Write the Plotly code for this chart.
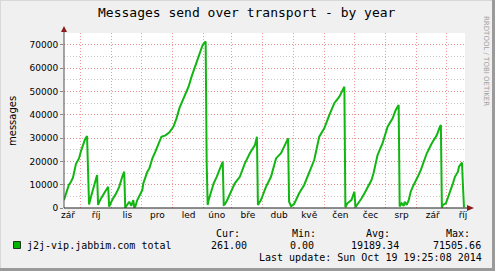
import plotly.graph_objects as go

# ---------------- data ----------------
dates = [
    "2013-09-15", "2013-09-17", "2013-09-20", "2013-09-22", "2013-09-24", "2013-09-27",
    "2013-09-30", "2013-10-02", "2013-10-04", "2013-10-06", "2013-10-08", "2013-10-09",
    "2013-10-10", "2013-10-12", "2013-10-14", "2013-10-17", "2013-10-18", "2013-10-19",
    "2013-10-21", "2013-10-25", "2013-10-28", "2013-10-29", "2013-10-30",
    "2013-11-02", "2013-11-06", "2013-11-09", "2013-11-12", "2013-11-14", "2013-11-15",
    "2013-11-17", "2013-11-19", "2013-11-21", "2013-11-22", "2013-11-23", "2013-11-24",
    "2013-11-25", "2013-11-27", "2013-11-30", "2013-12-02", "2013-12-03", "2013-12-07",
    "2013-12-09", "2013-12-12", "2013-12-15", "2013-12-19", "2013-12-21", "2013-12-25",
    "2013-12-29", "2014-01-02", "2014-01-05", "2014-01-08", "2014-01-13", "2014-01-17",
    "2014-01-20", "2014-01-23", "2014-01-27", "2014-01-29", "2014-01-31", "2014-02-02",
    "2014-02-03", "2014-02-04", "2014-02-05",
    "2014-02-06", "2014-02-11", "2014-02-14", "2014-02-18", "2014-02-20", "2014-02-21",
    "2014-02-22", "2014-02-24", "2014-02-27", "2014-03-04", "2014-03-09", "2014-03-14",
    "2014-03-19", "2014-03-24", "2014-03-26", "2014-03-27",
    "2014-03-30", "2014-04-04", "2014-04-09", "2014-04-14", "2014-04-19", "2014-04-23",
    "2014-04-26", "2014-04-27", "2014-04-28", "2014-04-29",
    "2014-05-02", "2014-05-07", "2014-05-12", "2014-05-17", "2014-05-22", "2014-05-27",
    "2014-06-01", "2014-06-06", "2014-06-11", "2014-06-16", "2014-06-20", "2014-06-21",
    "2014-06-22",
    "2014-06-24", "2014-06-28", "2014-07-01", "2014-07-02",
    "2014-07-05", "2014-07-08", "2014-07-11", "2014-07-14", "2014-07-18", "2014-07-20",
    "2014-07-24", "2014-07-29", "2014-08-03", "2014-08-08", "2014-08-11", "2014-08-14",
    "2014-08-15",
    "2014-08-17", "2014-08-19", "2014-08-20", "2014-08-22", "2014-08-24", "2014-08-26",
    "2014-08-28", "2014-08-30", "2014-09-02", "2014-09-05", "2014-09-11", "2014-09-16",
    "2014-09-21", "2014-09-24", "2014-09-25", "2014-09-26",
    "2014-09-27", "2014-09-30", "2014-10-02", "2014-10-04", "2014-10-07", "2014-10-09",
    "2014-10-12", "2014-10-13", "2014-10-15", "2014-10-16", "2014-10-17", "2014-10-18",
]
messages = [
    3400, 6500, 10000, 11300, 13000, 19000,
    21300, 24500, 27500, 29500, 30900, 11300,
    1500, 4900, 7700, 12000, 14200, 1300,
    3400, 6300, 8000, 9100, 600,
    3400, 6300, 9100, 13400, 15600, 100,
    1300, 2700, 900, 2000, 3400, 300,
    600, 3400, 6300, 7700, 10600, 15600,
    17000, 21300, 24200, 28500, 30600, 31200,
    32500, 35000, 38500, 43000, 48500, 52100,
    56400, 60000, 64300, 67100, 70000, 71000,
    71506, 19900, 1300,
    3400, 10600, 13400, 17700, 19900, 1300,
    1500, 3000, 5600, 10600, 13400, 19200,
    23500, 27000, 30600, 1300,
    3400, 9100, 13400, 21300, 23500, 27000,
    29900, 2700, 2000, 800,
    1700, 6300, 9900, 14900, 20600, 30600,
    34200, 39900, 45000, 47800, 51400, 52100,
    300,
    2000, 3400, 7000, 300,
    2000, 4100, 6300, 8500, 12000, 14900,
    22700, 27800, 34900, 38500, 42000, 44200,
    700,
    2000, 850, 2700, 1300, 3400, 7000,
    9100, 10600, 13400, 16300, 23500, 27800,
    31300, 34900, 35600, 200,
    1300, 2000, 4300, 6300, 10600, 13400,
    15600, 17700, 18900, 19500, 9100, 261,
]

month_starts = [
    "2013-10-01", "2013-11-01", "2013-12-01", "2014-01-01", "2014-02-01", "2014-03-01",
    "2014-04-01", "2014-05-01", "2014-06-01", "2014-07-01", "2014-08-01", "2014-09-01",
    "2014-10-01",
]
label_dates = [
    "2013-09-19", "2013-10-17", "2013-11-17", "2013-12-17", "2014-01-17", "2014-02-14",
    "2014-03-17", "2014-04-17", "2014-05-17", "2014-06-17", "2014-07-17", "2014-08-17",
    "2014-09-17", "2014-10-17",
]
month_labels = ["zář", "říj", "lis", "pro", "led", "úno", "bře", "dub", "kvě", "čen",
                "čec", "srp", "zář", "říj"]
y_ticks = [0, 10000, 20000, 30000, 40000, 50000, 60000, 70000]
y_tick_text = ["0", "10000", "20000", "30000", "40000", "50000", "60000", "70000"]

title_text = "Messages send over transport - by year"
series_name = "j2j-vip.jabbim.com total"
stat_heads = ["Cur:", "Min:", "Avg:", "Max:"]
stat_vals = ["261.00", "0.00", "19189.34", "71505.66"]
last_update = "Last update: Sun Oct 19 19:25:08 2014"

# ---------------- layout helpers (pixel -> paper) ----------------
W, H = 495, 271
L, R, T, B = 64, 465, 33, 208


def px(x):
    return (x - L) / (R - L)


def py(y):
    return (B - y) / (B - T)


GREEN = "#12b612"
MONO = "DejaVu Sans Mono"
SANS = "DejaVu Sans"

fig = go.Figure()
fig.add_trace(go.Scatter(x=dates, y=messages, mode="lines",
                         line=dict(color=GREEN, width=2), hoverinfo="skip",
                         showlegend=False))

fig.update_layout(
    width=W, height=H,
    margin=dict(l=L, r=W - R, t=T, b=H - B, pad=0),
    paper_bgcolor="#f0f0f0",
    plot_bgcolor="#ffffff",
    showlegend=False,
    xaxis=dict(
        type="date",
        range=["2013-09-15 02:00", "2014-10-19 00:00"],
        tickmode="array", tickvals=label_dates, ticktext=month_labels,
        showgrid=False, zeroline=False, showline=False,
        ticks="", tickfont=dict(family=SANS, size=9, color="#000"),
        minor=dict(tickmode="array", tickvals=month_starts, showgrid=True,
                   gridcolor="rgba(235,120,120,0.75)", griddash="1px,2px",
                   gridwidth=1, ticks=""),
    ),
    yaxis=dict(
        range=[0, 75150],
        tickmode="array", tickvals=y_ticks, ticktext=y_tick_text,
        showgrid=True, gridcolor="rgba(235,120,120,0.75)", griddash="1px,2px",
        gridwidth=1, zeroline=False, showline=False,
        ticks="outside", ticklen=3, tickcolor="#888",
        tickfont=dict(family=SANS, size=9, color="#000"),
        minor=dict(dtick=5000, showgrid=True, gridcolor="#cdcdcd",
                   griddash="1px,2px", gridwidth=1, ticks=""),
    ),
)

shapes = []
# axes lines
shapes.append(dict(type="line", xref="paper", yref="paper", x0=px(64), x1=px(64),
                   y0=py(208), y1=py(30), line=dict(color="#505050", width=1)))
shapes.append(dict(type="line", xref="paper", yref="paper", x0=px(64), x1=px(469),
                   y0=py(208), y1=py(208), line=dict(color="#202020", width=1)))
# arrows
shapes.append(dict(type="path", xref="paper", yref="paper",
                   path=f"M {px(64)} {py(26)} L {px(61)} {py(32)} L {px(67)} {py(32)} Z",
                   fillcolor="#8b1a1a", line=dict(width=0)))
shapes.append(dict(type="path", xref="paper", yref="paper",
                   path=f"M {px(474)} {py(208)} L {px(467)} {py(205)} L {px(467)} {py(211)} Z",
                   fillcolor="#8b1a1a", line=dict(width=0)))
# 3D border of the image
shapes.append(dict(type="line", xref="paper", yref="paper", x0=px(0), x1=px(495),
                   y0=py(0.5), y1=py(0.5), line=dict(color="#d8d8d8", width=1)))
shapes.append(dict(type="line", xref="paper", yref="paper", x0=px(0.5), x1=px(0.5),
                   y0=py(0), y1=py(271), line=dict(color="#d8d8d8", width=1)))
shapes.append(dict(type="line", xref="paper", yref="paper", x0=px(0), x1=px(495),
                   y0=py(269.5), y1=py(269.5), line=dict(color="#9a9a9a", width=3)))
shapes.append(dict(type="line", xref="paper", yref="paper", x0=px(493.5), x1=px(493.5),
                   y0=py(0), y1=py(271), line=dict(color="#9a9a9a", width=3)))
# legend swatch
shapes.append(dict(type="rect", xref="paper", yref="paper", x0=px(13.5), x1=px(20.5),
                   y0=py(241.5), y1=py(248.5), fillcolor="#00b400",
                   line=dict(color="#1a3a1a", width=1)))
fig.update_layout(shapes=shapes)

ann = []


def text(x, y, s, size=10, family=MONO, color="#000", xanchor="left", angle=0):
    ann.append(dict(xref="paper", yref="paper", x=px(x), y=py(y), text=s,
                    showarrow=False, xanchor=xanchor, yanchor="middle",
                    font=dict(family=family, size=size, color=color),
                    textangle=angle, borderpad=0))


text(247, 13, title_text, size=13, xanchor="center")
text(12, 121, "messages", size=10, family=SANS, xanchor="center", angle=-90)
text(486, 61, "RRDTOOL / TOBI OETIKER", size=7, family=SANS, color="#a0a0a0",
     xanchor="center", angle=90)
text(26, 245, series_name)
head_x = [215, 291, 365, 445]
val_x = [210, 289, 350, 432]
for hx, h in zip(head_x, stat_heads):
    text(hx, 233.5, h)
for vx, v in zip(val_x, stat_vals):
    text(vx, 245, v)
text(258, 257, last_update)
fig.update_layout(annotations=ann)

fig.write_html("out.html")
